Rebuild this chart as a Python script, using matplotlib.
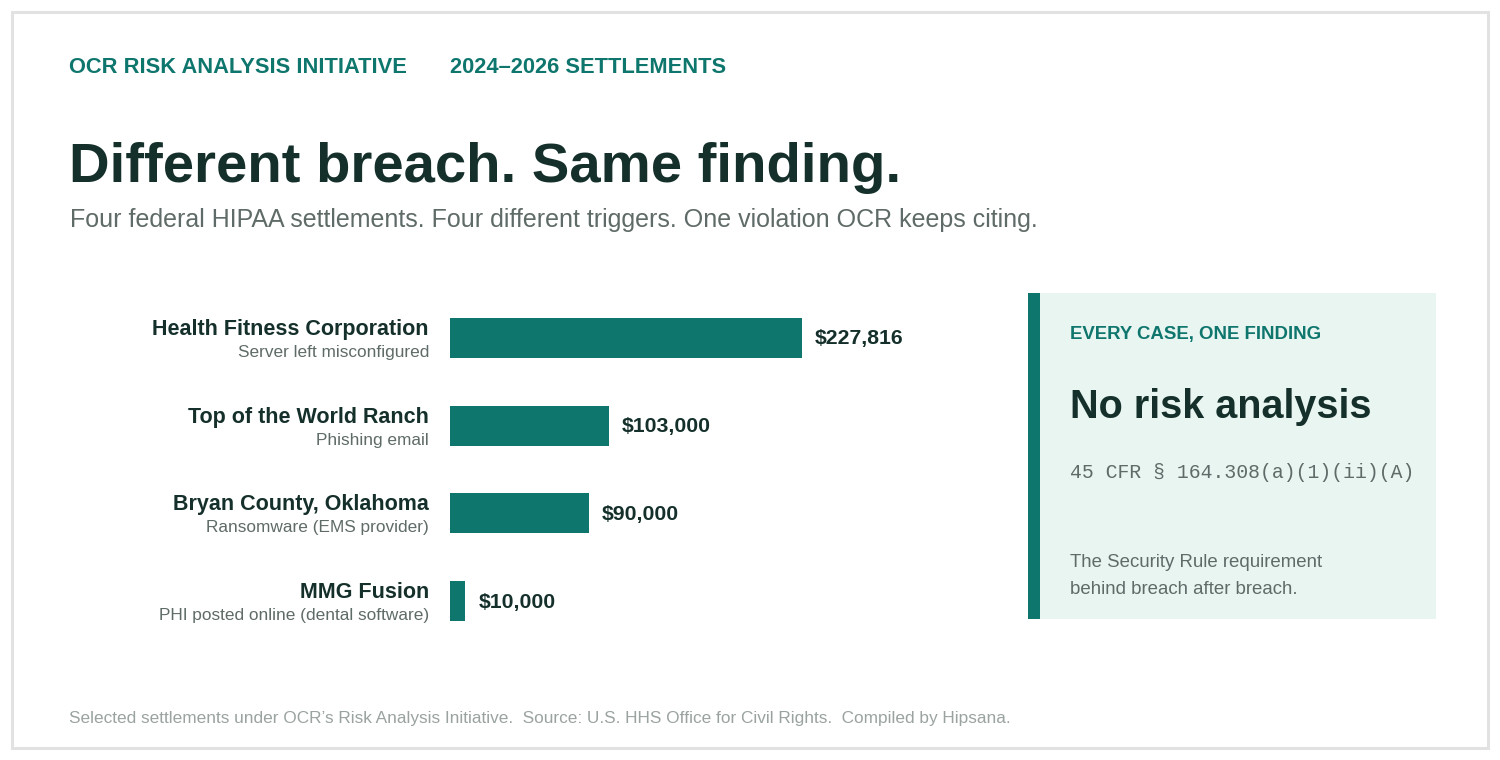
import matplotlib.pyplot as plt
from matplotlib.patches import Rectangle

# data
names = ["Health Fitness Corporation", "Top of the World Ranch",
         "Bryan County, Oklahoma", "MMG Fusion"]
triggers = ["Server left misconfigured", "Phishing email",
            "Ransomware (EMS provider)", "PHI posted online (dental software)"]
amounts = [227816, 103000, 90000, 10000]

TEAL = "#0f766e"
DARK = "#15302b"
GRAY = "#5f6b68"
LIGHT = "#9aa3a1"
PANEL = "#e9f5f1"

W, H = 1500, 760
plt.rcParams["font.family"] = ["Liberation Sans", "DejaVu Sans"]

fig = plt.figure(figsize=(W / 100, H / 100), dpi=100)
fig.patch.set_facecolor("white")


def fx(x):
    return x / W


def fy(y):
    return 1 - y / H


def ftext(x, y, s, **kw):
    fig.text(fx(x), fy(y), s, va="baseline", **kw)


# outer border
fig.patches.append(Rectangle((fx(12), fy(748)), fx(1476), 736 / H,
                             transform=fig.transFigure, fill=False,
                             edgecolor="#e2e2e2", linewidth=2.2))

# header
ftext(69, 73, "OCR RISK ANALYSIS INITIATIVE", color=TEAL, fontsize=15.75, fontweight="bold")
ftext(450, 73, "2024\u20132026 SETTLEMENTS", color=TEAL, fontsize=15.75, fontweight="bold")

ftext(69, 182, "Different breach. Same finding.", color=DARK, fontsize=40.5, fontweight="bold")
ftext(70, 227, "Four federal HIPAA settlements. Four different triggers. "
      "One violation OCR keeps citing.", color=GRAY, fontsize=18.0)

# bars
ax_left, ax_w = 450, 352
ax_top, ax_bot = 294, 645
ax = fig.add_axes([fx(ax_left), fy(ax_bot), ax_w / W, (ax_bot - ax_top) / H])
ax.set_xlim(0, amounts[0])
ax.set_ylim(len(amounts) - 0.5, -0.5)
ax.axis("off")
ypos = list(range(len(amounts)))
ax.barh(ypos, amounts, height=40 / 87.75, color=TEAL, left=0)

for i, (n, t, a) in enumerate(zip(names, triggers, amounts)):
    ax.annotate(n, xy=(0, i), xytext=(-21, 3), textcoords="offset pixels",
                ha="right", va="baseline", fontsize=15.5, fontweight="bold",
                color=DARK, annotation_clip=False)
    ax.annotate(t, xy=(0, i), xytext=(-21, -19), textcoords="offset pixels",
                ha="right", va="baseline", fontsize=12.4, color=GRAY,
                annotation_clip=False)
    ax.annotate(f"${a:,}", xy=(a, i), xytext=(13, -6.5), textcoords="offset pixels",
                ha="left", va="baseline", fontsize=15.3, fontweight="bold",
                color=DARK, annotation_clip=False)

# side panel
fig.patches.append(Rectangle((fx(1028), fy(619)), 408 / W, 326 / H,
                             transform=fig.transFigure, facecolor=PANEL,
                             edgecolor="none"))
fig.patches.append(Rectangle((fx(1028), fy(619)), 12 / W, 326 / H,
                             transform=fig.transFigure, facecolor=TEAL,
                             edgecolor="none"))
ftext(1070, 339, "EVERY CASE, ONE FINDING", color=TEAL, fontsize=13.4, fontweight="bold")
ftext(1070, 418, "No risk analysis", color=DARK, fontsize=28.5, fontweight="bold")
ftext(1070, 478, "45 CFR \u00a7 164.308(a)(1)(ii)(A)", color=GRAY, fontsize=14.2,
      family=["Liberation Mono", "DejaVu Sans Mono"])
ftext(1070, 567, "The Security Rule requirement", color=GRAY, fontsize=13.4)
ftext(1070, 594, "behind breach after breach.", color=GRAY, fontsize=13.4)

# footer
ftext(69, 723, "Selected settlements under OCR\u2019s Risk Analysis Initiative.  "
      "Source: U.S. HHS Office for Civil Rights.  Compiled by Hipsana.",
      color=LIGHT, fontsize=12.44)

fig.savefig("out.png", dpi=100, facecolor="white")
